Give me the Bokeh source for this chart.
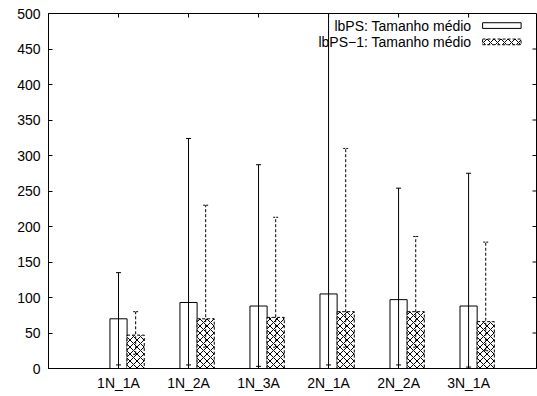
import math
from bokeh.plotting import figure
from bokeh.models import Range1d, FixedTicker, Label, BoxAnnotation
from bokeh.embed import file_html
from bokeh.resources import INLINE

# ---- data ----
categories = ["1N_1A", "1N_2A", "1N_3A", "2N_1A", "2N_2A", "3N_1A"]
lbps_mean = [70, 93, 88, 105, 97, 88]
lbps_low = [5, 5, 3, 5, 5, 2]
lbps_high = [135, 324, 287, 520, 254, 275]
lbps1_mean = [47, 70, 72, 80, 80, 66]
lbps1_low = [20, 30, 30, 30, 30, 25]
lbps1_high = [80, 230, 213, 310, 186, 178]
y_ticks = [0, 50, 100, 150, 200, 250, 300, 350, 400, 450, 500]
legend_labels = ["lbPS: Tamanho médio", "lbPS\u22121: Tamanho médio"]

FONT = "Liberation Sans"
FS = "14px"
BW = 0.245      # bar width (category units)
CAP = 0.036     # half width of error-bar caps
X_MIN, X_MAX = -1, 5.97
Y_MIN, Y_MAX = 0, 500
HATCH = dict(hatch_pattern="diagonal_cross", hatch_color="black", hatch_scale=7,
             hatch_weight=1)

x1 = [i for i in range(len(categories))]
x2 = [i + BW for i in range(len(categories))]

p = figure(width=537, height=396, output_backend="svg", toolbar_location=None,
           x_range=Range1d(X_MIN, X_MAX), y_range=Range1d(Y_MIN, Y_MAX),
           min_border_left=48, min_border_right=1, min_border_top=13, min_border_bottom=28)
p.background_fill_color = "white"
p.border_fill_color = "white"
p.outline_line_color = "black"
p.outline_line_width = 1
p.xgrid.visible = False
p.ygrid.visible = False

# bars
p.vbar(x=x1, top=lbps_mean, bottom=0, width=BW, fill_color="white",
       line_color="black", line_width=1)
p.vbar(x=x2, top=lbps1_mean, bottom=0, width=BW, fill_color="white",
       line_color="black", line_width=1, line_dash="3 2", **HATCH)

# error bars
p.segment(x0=x1, y0=lbps_low, x1=x1, y1=lbps_high, line_color="black", line_width=1)
p.segment(x0=[x - CAP for x in x1], y0=lbps_low, x1=[x + CAP for x in x1], y1=lbps_low,
          line_color="black", line_width=1)
p.segment(x0=[x - CAP for x in x1], y0=lbps_high, x1=[x + CAP for x in x1], y1=lbps_high,
          line_color="black", line_width=1)
p.segment(x0=x2, y0=lbps1_low, x1=x2, y1=lbps1_high, line_color="black", line_width=1,
          line_dash="3 2")
p.segment(x0=[x - CAP for x in x2], y0=lbps1_low, x1=[x + CAP for x in x2], y1=lbps1_low,
          line_color="black", line_width=1, line_dash="2 1")
p.segment(x0=[x - CAP for x in x2], y0=lbps1_high, x1=[x + CAP for x in x2], y1=lbps1_high,
          line_color="black", line_width=1, line_dash="2 1")

# axes (bottom + left with labels, inward ticks)
def style(ax):
    ax.axis_line_color = "black"
    ax.major_tick_in = 4
    ax.major_tick_out = 0
    ax.minor_tick_in = 0
    ax.minor_tick_out = 0
    ax.major_tick_line_color = "black"
    ax.major_label_text_font = FONT
    ax.major_label_text_font_size = FS
    ax.major_label_text_color = "black"

style(p.xaxis[0])
p.xaxis[0].ticker = FixedTicker(ticks=x1)
p.xaxis[0].major_label_overrides = {i: c for i, c in enumerate(categories)}
p.xaxis[0].major_label_standoff = 6
style(p.yaxis[0])
p.yaxis[0].ticker = FixedTicker(ticks=y_ticks)
p.yaxis[0].major_label_standoff = 8

# mirrored inward ticks on top and right (gnuplot style)
p.ray(x=x1, y=[Y_MAX] * len(x1), length=4, length_units="screen",
      angle=-math.pi / 2, line_color="black", line_width=1)
p.ray(x=[X_MAX] * len(y_ticks), y=y_ticks, length=4, length_units="screen",
      angle=math.pi, line_color="black", line_width=1)

# legend (gnuplot style: text right-aligned, sample at right)
leg_text_x = 5.04
leg_rows_y = [483, 460]
box_left, box_right = 5.20, 5.75
box_half = 4
for i, lab in enumerate(legend_labels):
    p.add_layout(Label(x=leg_text_x, y=leg_rows_y[i], text=lab, text_align="right",
                       text_baseline="middle", text_font=FONT, text_font_size=FS,
                       text_color="black"))
p.add_layout(BoxAnnotation(left=box_left, right=box_right,
                           bottom=leg_rows_y[0] - box_half, top=leg_rows_y[0] + box_half,
                           fill_color="white", fill_alpha=1, line_color="black",
                           line_width=1, line_alpha=1))
p.add_layout(BoxAnnotation(left=box_left, right=box_right,
                           bottom=leg_rows_y[1] - box_half, top=leg_rows_y[1] + box_half,
                           fill_color="white", fill_alpha=1, line_color="black",
                           line_width=1, line_alpha=1, line_dash="3 2",
                           hatch_alpha=1, **HATCH))

open("out.html", "w").write(file_html(p, INLINE))
